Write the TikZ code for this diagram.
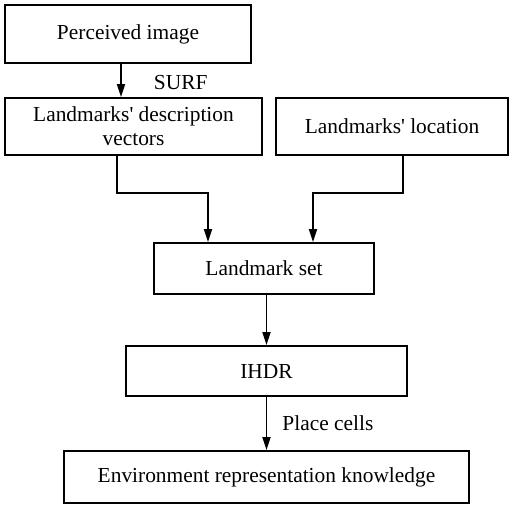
\documentclass[tikz,border=0pt]{standalone}
\usepackage{fontspec}
\setmainfont{Liberation Serif}
\usetikzlibrary{arrows.meta,positioning}

\begin{document}
\begin{tikzpicture}[
    x=0.5pt, y=-0.5pt,
    box/.style={rectangle, draw, line width=0.9pt, inner sep=2pt,
      align=center, font=\fontsize{10.7}{12}\selectfont},
    lbl/.style={font=\fontsize{10.7}{12}\selectfont, inner sep=0pt},
    >={Triangle[length=6.5pt,width=4pt]},
    every path/.style={line width=0.9pt}
  ]
  \useasboundingbox (0,0) rectangle (512,505);
  % boxes
  \node[box, minimum width=123pt, minimum height=29pt] (img) at (128,34) {Perceived image};
  \node[box, minimum width=128.5pt, minimum height=28.5pt] (vec) at (133.5,126.5)
    {Landmarks\textquotesingle{} description\\vectors};
  \node[box, minimum width=116pt, minimum height=28.5pt] (loc) at (392,126.5)
    {Landmarks\textquotesingle{} location};
  \node[box, minimum width=110pt, minimum height=25.5pt] (set) at (264,268.5) {Landmark set};
  \node[box, minimum width=140.5pt, minimum height=25pt] (ihdr) at (266.5,371) {IHDR};
  \node[box, minimum width=202.5pt, minimum height=26pt] (env) at (266.5,477)
    {Environment representation knowledge};
  % arrows
  \draw[->] ([xshift=-3.5pt]img.south) -- ([xshift=-6.25pt]vec.north)
    node[lbl, midway, right=16pt, yshift=-1pt] {SURF};
  \draw[->] ([xshift=-8.25pt]vec.south) -- ++(0,37) -| ([xshift=-28pt]set.north);
  \draw[->] ([xshift=5.5pt]loc.south) -- ++(0,37) -| ([xshift=24.5pt]set.north);
  \draw[->] (ihdr.north |- set.south) -- (ihdr.north);
  \draw[->] (ihdr.south) -- (env.north)
    node[lbl, midway, right=7.5pt] {Place cells};
\end{tikzpicture}
\end{document}
